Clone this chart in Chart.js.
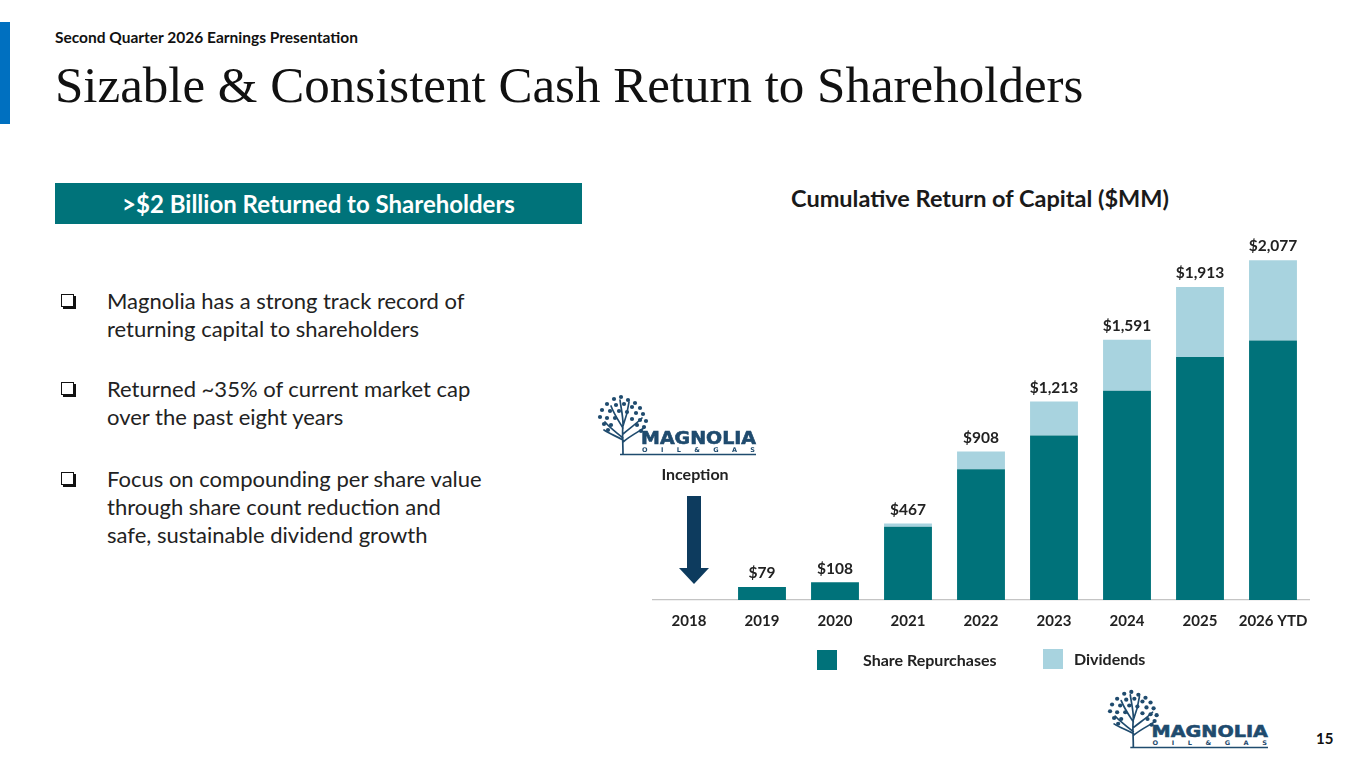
<!DOCTYPE html>
<html>
<head>
<meta charset="utf-8">
<script src="https://cdn.jsdelivr.net/npm/chart.js@4.4.1/dist/chart.umd.min.js"></script>
<style>
  body { margin: 0; width: 1365px; height: 768px; background: #fff; font-family: Lato, "Open Sans", sans-serif; position: relative; overflow: hidden; }
  .abs { position: absolute; }
  #accent { left: 0; top: 22px; width: 10px; height: 102px; background: #0070c0; }
  #kicker { left: 55px; top: 28px; font-size: 15.5px; font-weight: 700; color: #111; }
  #title { left: 55px; top: 56px; font-family: "Liberation Serif", "Times New Roman", serif; font-size: 51px; color: #111; white-space: nowrap; }
  #banner { left: 55px; top: 183px; width: 527px; height: 41px; background: #00737a; color: #fff; font-size: 24px; font-weight: 700; line-height: 41px; text-align: center; }
  .bullet { left: 107px; font-size: 22px; line-height: 28px; color: #222; white-space: nowrap; }
  .box { left: 61px; width: 11px; height: 11px; border: 1.3px solid #111; box-shadow: 2px 2px 0 #111; background: #fff; }
  #charttitle { left: 730px; top: 184px; width: 500px; text-align: center; font-size: 23.5px; font-weight: 700; color: #1a1a1a; }
  #wrap { left: 600px; top: 215px; width: 730px; height: 440px; }
  .leg { font-size: 16px; font-weight: 700; color: #222; }
  .sw { width: 20px; height: 20px; }
  #inception { left: 645px; width: 100px; text-align: center; top: 464px; font-size: 16px; font-weight: 700; color: #222; }
  #page { left: 1316px; top: 729px; font-size: 15px; font-weight: 700; color: #111; }
</style>
</head>
<body>
<div id="accent" class="abs"></div>
<div id="kicker" class="abs">Second Quarter 2026 Earnings Presentation</div>
<div id="title" class="abs">Sizable &amp; Consistent Cash Return to Shareholders</div>
<div id="banner" class="abs">&gt;$2 Billion Returned to Shareholders</div>

<div class="abs box" style="top:294px"></div>
<div class="abs bullet" style="top:287px">Magnolia has a strong track record of<br>returning capital to shareholders</div>
<div class="abs box" style="top:382px"></div>
<div class="abs bullet" style="top:375px">Returned ~35% of current market cap<br>over the past eight years</div>
<div class="abs box" style="top:472px"></div>
<div class="abs bullet" style="top:465px">Focus on compounding per share value<br>through share count reduction and<br>safe, sustainable dividend growth</div>

<div id="charttitle" class="abs">Cumulative Return of Capital ($MM)</div>
<div id="wrap" class="abs"><canvas id="chart"></canvas></div>

<div id="logo1" class="abs" style="left:596px; top:394px; width:162px; height:62px"></div>
<div id="inception" class="abs">Inception</div>
<svg class="abs" style="left:679px; top:496px" width="30" height="90">
  <rect x="8" y="0" width="14" height="74" fill="#0d3b5e"/>
  <polygon points="0,72 30,72 15,88" fill="#0d3b5e"/>
</svg>

<div id="sw1" class="abs sw" style="left:817px; top:650px"></div>
<div class="abs leg" style="left:863px; top:650px">Share Repurchases</div>
<div id="sw2" class="abs sw" style="left:1043px; top:649px"></div>
<div class="abs leg" style="left:1074px; top:649px">Dividends</div>

<div id="logo2" class="abs" style="left:1106px; top:689px; width:164px; height:60px"></div>
<div id="page" class="abs">15</div>

<script>
const years = ["2018", "2019", "2020", "2021", "2022", "2023", "2024", "2025", "2026 YTD"];
const repurchases = [0, 79, 108, 448, 799, 1006, 1278, 1485, 1586];
const dividends = [0, 0, 0, 19, 109, 207, 313, 428, 491];
const totals = [null, 79, 108, 467, 908, 1213, 1591, 1913, 2077];

const darkTeal = "#00727a";
const lightBlue = "#a8d3df";
const navy = "#1f4b6e";

document.getElementById("sw1").style.background = darkTeal;
document.getElementById("sw2").style.background = lightBlue;

// rough logo: tree on the left + wordmark
function logoSvg(w, h) {
  let dots = "";
  const pts = [[18,5],[25,3],[32,6],[39,9],[11,10],[20,11],[28,10],[36,13],[44,14],[6,16],[14,17],[23,17],[31,18],[40,19],[47,20],[4,23],[11,24],[19,24],[36,25],[44,26],[50,27],[8,30],[15,31],[41,31],[48,33],[12,36],[45,37]];
  pts.forEach(p => { dots += `<circle cx="${p[0]}" cy="${p[1]}" r="2.1" fill="${navy}"/>`; });
  return `<svg width="${w}" height="${h}" viewBox="0 0 162 62" preserveAspectRatio="none">
    <g stroke="${navy}" stroke-width="1.7" fill="none" stroke-linecap="round">
      <path d="M27 60 C27 48 26 40 27 30 M27 44 C20 38 14 34 9 28 M27 40 C34 34 40 30 46 24 M27 34 C22 26 18 20 15 12 M27 32 C30 24 32 16 33 8 M27 30 C27 22 25 14 24 6 M27 48 C34 42 42 38 48 34 M27 46 C20 42 14 40 8 36"/>
    </g>${dots}
    <text x="45" y="50" font-family="DejaVu Sans, sans-serif" font-weight="bold" font-size="17" fill="${navy}" stroke="${navy}" stroke-width="0.6" textLength="115" lengthAdjust="spacingAndGlyphs">MAGNOLIA</text>
    <text x="46" y="58" font-family="DejaVu Sans, sans-serif" font-weight="bold" font-size="6.5" fill="${navy}" textLength="113" lengthAdjust="spacing">O I L &amp; G A S</text>
    <line x1="24" y1="60.5" x2="160" y2="60.5" stroke="${navy}" stroke-width="1.6"/>
  </svg>`;
}
document.getElementById("logo1").innerHTML = logoSvg(162, 62);
document.getElementById("logo2").innerHTML = logoSvg(164, 60);

const totalLabels = {
  id: "totalLabels",
  afterDatasetsDraw(chart) {
    const ctx = chart.ctx;
    const top = chart.getDatasetMeta(1);
    ctx.save();
    ctx.font = "bold 15.5px Lato, sans-serif";
    ctx.fillStyle = "#222";
    ctx.textAlign = "center";
    ctx.textBaseline = "bottom";
    totals.forEach((t, i) => {
      if (t == null) return;
      const bar = top.data[i];
      ctx.fillText("$" + t.toLocaleString("en-US"), bar.x, bar.y - 6);
    });
    ctx.restore();
  },
};

new Chart(document.getElementById("chart"), {
  type: "bar",
  data: {
    labels: years,
    datasets: [
      { label: "Share Repurchases", data: repurchases, backgroundColor: darkTeal },
      { label: "Dividends", data: dividends, backgroundColor: lightBlue },
    ],
  },
  options: {
    responsive: true,
    maintainAspectRatio: false,
    animation: false,
    layout: { padding: { left: 52.5, right: 20.5, top: 25, bottom: 21 } },
    datasets: { bar: { categoryPercentage: 0.8, barPercentage: 0.82, borderWidth: 0 } },
    plugins: { legend: { display: false }, tooltip: { enabled: false } },
    scales: {
      x: {
        stacked: true,
        grid: { display: false },
        border: { color: "#c4c4c4", width: 1.2 },
        ticks: {
          color: "#222",
          font: { family: "Lato", size: 15, weight: "bold" },
          padding: 4,
          maxRotation: 0,
          minRotation: 0,
          autoSkip: false,
        },
      },
      y: {
        stacked: true,
        display: false,
        min: 0,
        max: 2200,
      },
    },
  },
  plugins: [totalLabels],
});
</script>
</body>
</html>
